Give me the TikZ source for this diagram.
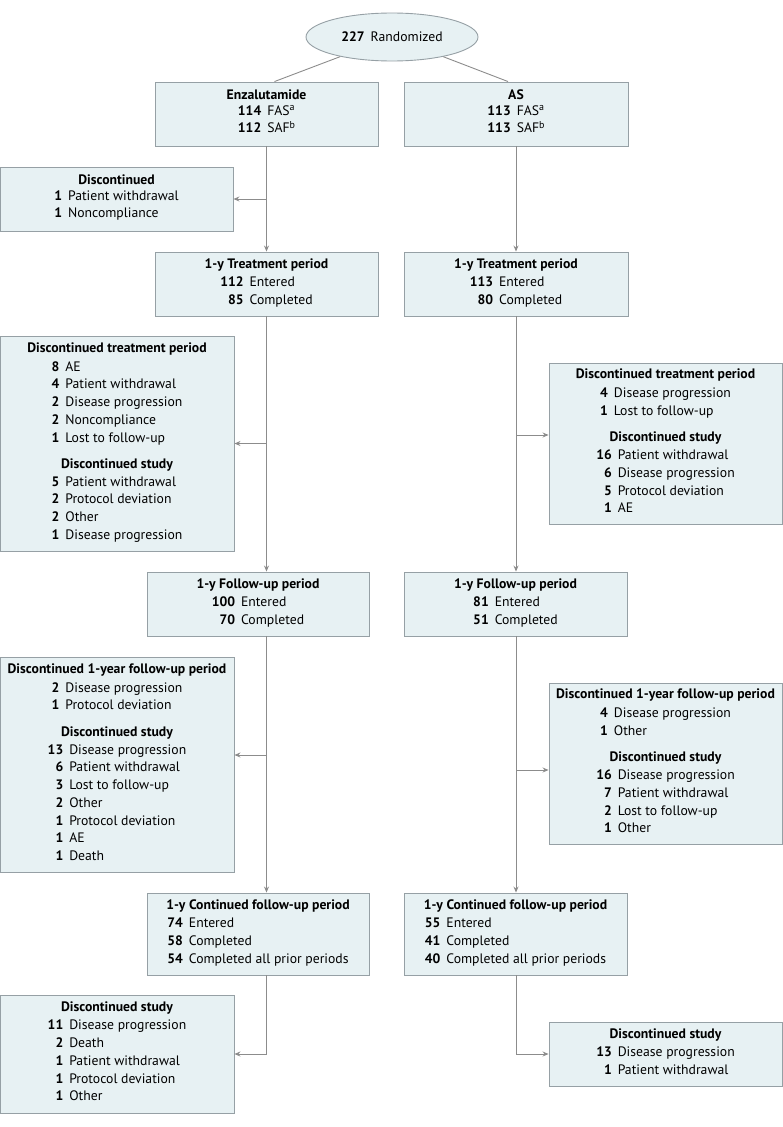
\documentclass[tikz,border=0pt]{standalone}
\usepackage{fontspec}
\setmainfont{PT Sans}
\usetikzlibrary{arrows.meta,shapes.geometric,calc}

\definecolor{boxfill}{RGB}{231,241,243}
\definecolor{boxdraw}{RGB}{150,160,165}
\definecolor{linegray}{RGB}{140,140,140}

\newcommand{\entries}[1]{\begin{tabular}{@{}r@{\hspace{6pt}}l@{}}#1\end{tabular}}
\newcommand{\supmark}[1]{\raisebox{4.5pt}{\fontsize{10}{10}\selectfont #1}}

\begin{document}
\begin{tikzpicture}[x=1pt, y=-1pt, > = {Stealth[length=6pt,width=5pt]},
    font=\fontsize{13.7}{17.7}\selectfont]
  \tikzstyle{box}=[rectangle, draw=boxdraw, fill=boxfill, line width=0.9pt, inner sep=0pt, align=center]
  \tikzstyle{line}=[draw=linegray, line width=0.9pt]
  \tikzstyle{arr}=[line, ->, linegray]

  \useasboundingbox (0,0) rectangle (783,1127);

  % Randomizacao
  \node[ellipse, draw=boxdraw, fill=boxfill, line width=0.9pt, minimum width=172, minimum height=48] (rand) at (392,37) {\textbf{227}\hspace{6pt}Randomized};

  % Grupos
  \node[box, minimum width=223, minimum height=64] (enz) at (266.5,114)
    {\textbf{Enzalutamide}\\[2pt] \entries{\textbf{114} & FAS\supmark{a}\\ \textbf{112} & SAF\supmark{b}}};
  \node[box, minimum width=224, minimum height=64] (as) at (516,114)
    {\textbf{AS}\\[2pt] \entries{\textbf{113} & FAS\supmark{a}\\ \textbf{113} & SAF\supmark{b}}};

  \node[box, minimum width=233, minimum height=64] (enzdisc1) at (116.5,199)
    {\textbf{Discontinued}\\[2pt] \entries{\textbf{1} & Patient withdrawal\\ \textbf{1} & Noncompliance}};

  % Tratamento
  \node[box, minimum width=223, minimum height=64] (enztreat) at (266.5,284)
    {\textbf{1-y Treatment period}\\[2pt] \entries{\textbf{112} & Entered\\ \textbf{85} & Completed}};
  \node[box, minimum width=224, minimum height=64] (astreat) at (516,284)
    {\textbf{1-y Treatment period}\\[2pt] \entries{\textbf{113} & Entered\\ \textbf{80} & Completed}};

  \node[box, minimum width=234, minimum height=215] (enzdisc2) at (117,443.5)
    {\textbf{Discontinued treatment period}\\[3pt]
     \entries{\textbf{8} & AE\\ \textbf{4} & Patient withdrawal\\ \textbf{2} & Disease progression\\ \textbf{2} & Noncompliance\\ \textbf{1} & Lost to follow-up}\\[10pt]
     \textbf{Discontinued study}\\[2pt]
     \entries{\textbf{5} & Patient withdrawal\\ \textbf{2} & Protocol deviation\\ \textbf{2} & Other\\ \textbf{1} & Disease progression}};
  \node[box, minimum width=233, minimum height=161] (asdisc2) at (665.5,443.5)
    {\textbf{Discontinued treatment period}\\[3pt]
     \entries{\textbf{4} & Disease progression\\ \textbf{1} & Lost to follow-up}\\[10pt]
     \textbf{Discontinued study}\\[2pt]
     \entries{\textbf{16} & Patient withdrawal\\ \textbf{6} & Disease progression\\ \textbf{5} & Protocol deviation\\ \textbf{1} & AE}};

  % Seguimento
  \node[box, minimum width=222, minimum height=64] (enzfu) at (258,604)
    {\textbf{1-y Follow-up period}\\[2pt] \entries{\textbf{100} & Entered\\ \textbf{70} & Completed}};
  \node[box, minimum width=223, minimum height=64] (asfu) at (515.5,604)
    {\textbf{1-y Follow-up period}\\[2pt] \entries{\textbf{81} & Entered\\ \textbf{51} & Completed}};

  \node[box, minimum width=234, minimum height=215] (enzdisc3) at (117,764.5)
    {\textbf{Discontinued 1-year follow-up period}\\[3pt]
     \entries{\textbf{2} & Disease progression\\ \textbf{1} & Protocol deviation}\\[10pt]
     \textbf{Discontinued study}\\[2pt]
     \entries{\textbf{13} & Disease progression\\ \textbf{6} & Patient withdrawal\\ \textbf{3} & Lost to follow-up\\ \textbf{2} & Other\\ \textbf{1} & Protocol deviation\\ \textbf{1} & AE\\ \textbf{1} & Death}};
  \node[box, minimum width=233, minimum height=161] (asdisc3) at (665.5,763.5)
    {\textbf{Discontinued 1-year follow-up period}\\[3pt]
     \entries{\textbf{4} & Disease progression\\ \textbf{1} & Other}\\[10pt]
     \textbf{Discontinued study}\\[2pt]
     \entries{\textbf{16} & Disease progression\\ \textbf{7} & Patient withdrawal\\ \textbf{2} & Lost to follow-up\\ \textbf{1} & Other}};

  % Seguimento continuado
  \node[box, minimum width=222, minimum height=82] (enzcont) at (258,934)
    {\textbf{1-y Continued follow-up period}\\[2pt] \entries{\textbf{74} & Entered\\ \textbf{58} & Completed\\ \textbf{54} & Completed all prior periods}};
  \node[box, minimum width=223, minimum height=82] (ascont) at (515.5,934)
    {\textbf{1-y Continued follow-up period}\\[2pt] \entries{\textbf{55} & Entered\\ \textbf{41} & Completed\\ \textbf{40} & Completed all prior periods}};

  \node[box, minimum width=234, minimum height=118] (enzdisc4) at (117,1054)
    {\textbf{Discontinued study}\\[2pt] \entries{\textbf{11} & Disease progression\\ \textbf{2} & Death\\ \textbf{1} & Patient withdrawal\\ \textbf{1} & Protocol deviation\\ \textbf{1} & Other}};
  \node[box, minimum width=233, minimum height=64] (asdisc4) at (665.5,1054)
    {\textbf{Discontinued study}\\[2pt] \entries{\textbf{13} & Disease progression\\ \textbf{1} & Patient withdrawal}};

  % Pontos de desvio
  \coordinate (asb2) at (516,435);
  \coordinate (enzb3) at (267,755);
  \coordinate (asb3) at (516,770);

  % Arestas
  \draw[line] (rand) -- ([xshift=8]enz.north);
  \draw[line] (rand) -- ([xshift=-8]as.north);
  \draw[arr] (enz.south) -- (enztreat.north);
  \draw[arr] (enz.south |- enzdisc1.east) -- (enzdisc1.east);
  \draw[arr] (as.south) -- (astreat.north);
  \draw[arr] (enztreat.south) -- (enztreat.south |- enzfu.north);
  \draw[arr] (enztreat.south |- enzdisc2.east) -- (enzdisc2.east);
  \draw[arr] (astreat.south) -- (astreat.south |- asfu.north);
  \draw[arr] (asb2) -- (asb2 -| asdisc2.west);
  \draw[arr] (enztreat.south |- enzfu.south) -- (enztreat.south |- enzcont.north);
  \draw[arr] (enzb3) -- (enzb3 -| enzdisc3.east);
  \draw[arr] (astreat.south |- asfu.south) -- (astreat.south |- ascont.north);
  \draw[arr] (asb3) -- (asb3 -| asdisc3.west);
  \draw[arr] (enztreat.south |- enzcont.south) |- (enzdisc4.east);
  \draw[arr] (astreat.south |- ascont.south) |- (asdisc4.west);
\end{tikzpicture}
\end{document}
